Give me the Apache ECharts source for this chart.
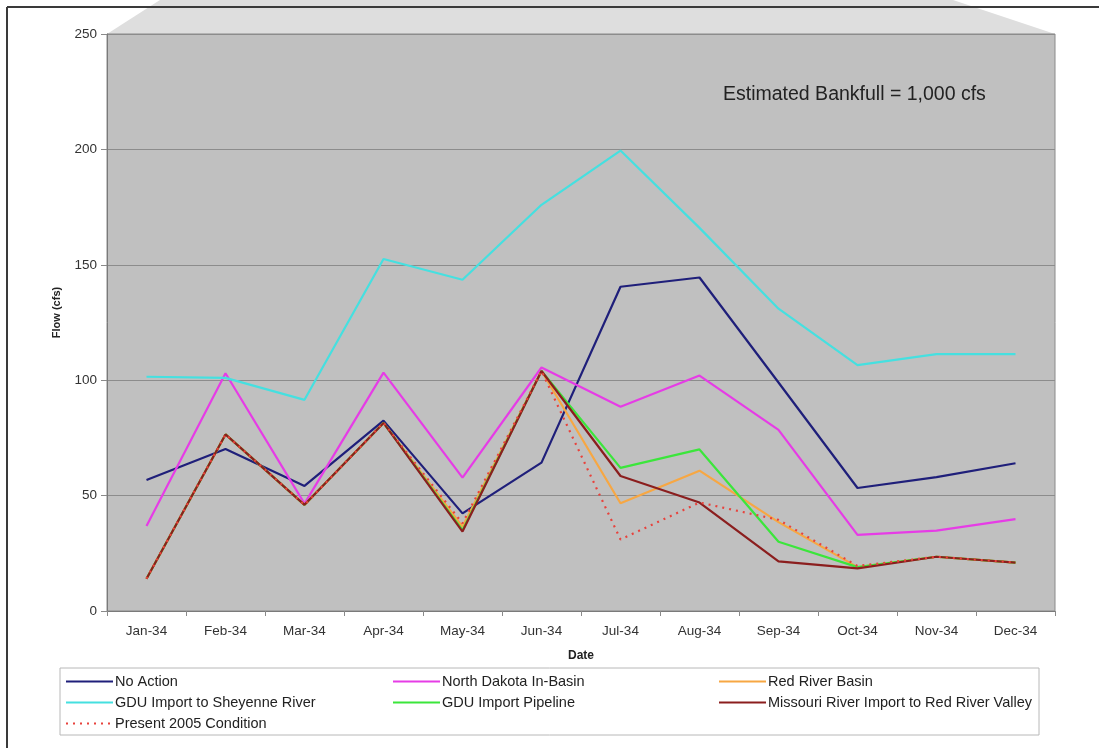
<!DOCTYPE html>
<html>
<head>
<meta charset="utf-8">
<script src="https://cdn.jsdelivr.net/npm/echarts@6/dist/echarts.min.js"></script>
<style>
html,body{margin:0;padding:0;background:#fff;}
#chart{width:1099px;height:748px;}
</style>
</head>
<body>
<div id="chart"></div>
<script>
const categories = ['Jan-34','Feb-34','Mar-34','Apr-34','May-34','Jun-34','Jul-34','Aug-34','Sep-34','Oct-34','Nov-34','Dec-34'];
const noAction = [56.8, 70.2, 54.2, 82.5, 42.3, 64.3, 140.5, 144.5, 99, 53.3, 58, 64];
const ndInBasin = [36.8, 103, 46.5, 103.3, 57.8, 105.5, 88.5, 102, 78.5, 33, 34.8, 39.8];
const redRiverBasin = [14, 76.5, 46, 81.5, 36.5, 104, 46.7, 60.8, 38.5, 19, 23.5, 21];
const gduSheyenne = [101.5, 101, 91.5, 152.5, 143.5, 176, 199.5, 166, 131, 106.5, 111.3, 111.3];
const gduPipeline = [14, 76.5, 46, 81.5, 35, 104, 62, 70, 30, 19, 23.5, 21];
const missouriImport = [14, 76.5, 46, 81.5, 34.4, 104, 58.5, 47, 21.5, 18.5, 23.5, 21];
const present2005 = [14, 76.5, 46, 81.5, 38, 104, 31, 47, 39.5, 19.5, 23.5, 21];
const yTicks = {min: 0, max: 250, interval: 50};

const FONT = 'Liberation Sans, Arial, sans-serif';
const chart = echarts.init(document.getElementById('chart'), null, {renderer: 'canvas'});

function line(name, data, color, type) {
  return {
    name: name, type: 'line', data: data, symbol: 'none', smooth: false,
    lineStyle: {color: color, width: 2.2, type: type || 'solid'},
    itemStyle: {color: color},
    emphasis: {disabled: true}
  };
}

const legendCommon = {
  orient: 'vertical', itemWidth: 47, itemHeight: 14, itemGap: 6,
  selectedMode: false,
  itemStyle: {opacity: 0},
  textStyle: {fontFamily: FONT, fontSize: 14.5, color: '#222', padding: [0,0,0,-3]},
  padding: 0
};

chart.setOption({
  animation: false,
  backgroundColor: '#ffffff',
  grid: {left: 107, top: 34, width: 948, height: 577, show: true,
    backgroundColor: '#c0c0c0', borderColor: '#8a8a8a', borderWidth: 1},
  graphic: [
    {type: 'polygon', z: -10, shape: {points: [[107,34],[160,0],[953,0],[1055,34]]},
      style: {fill: '#dedede'}},
    {type: 'line', shape: {x1: 7, y1: 7, x2: 1099, y2: 7}, style: {stroke: '#3a3a3a', lineWidth: 2}},
    {type: 'line', shape: {x1: 7, y1: 7, x2: 7, y2: 748}, style: {stroke: '#3a3a3a', lineWidth: 2}},
    {type: 'rect', shape: {x: 60, y: 668, width: 979, height: 67},
      style: {fill: '#ffffff', stroke: '#b8b8b8', lineWidth: 1}, z: -5},
    {type: 'text', left: 723, top: 85,
      style: {text: 'Estimated Bankfull = 1,000 cfs', font: '19.5px ' + FONT, fill: '#222'}}
  ],
  xAxis: {
    type: 'category', data: categories, boundaryGap: true,
    name: 'Date', nameLocation: 'middle', nameGap: 39,
    nameTextStyle: {fontFamily: FONT, fontSize: 12, fontWeight: 'bold', color: '#222'},
    axisLine: {lineStyle: {color: '#7a7a7a', width: 1}},
    axisTick: {show: true, length: 5, lineStyle: {color: '#8a8a8a'}},
    axisLabel: {fontFamily: FONT, fontSize: 13.5, color: '#333', margin: 13}
  },
  yAxis: {
    type: 'value', min: yTicks.min, max: yTicks.max, interval: yTicks.interval,
    name: 'Flow (cfs)', nameLocation: 'middle', nameGap: 45, nameRotate: 90,
    nameTextStyle: {fontFamily: FONT, fontSize: 11, fontWeight: 'bold', color: '#222', padding: [0, 0, 0, 20]},
    axisLine: {show: true, lineStyle: {color: '#7a7a7a', width: 1}},
    axisTick: {show: true, length: 6, lineStyle: {color: '#8a8a8a'}},
    axisLabel: {fontFamily: FONT, fontSize: 13.5, color: '#333', margin: 10},
    splitLine: {show: true, lineStyle: {color: '#8c8c8c', width: 1}}
  },
  legend: [
    Object.assign({left: 65, top: 674, data: ['No Action','GDU Import to Sheyenne River','Present 2005 Condition']}, legendCommon),
    Object.assign({left: 392, top: 674, data: ['North Dakota In-Basin','GDU Import Pipeline']}, legendCommon),
    Object.assign({left: 718, top: 674, data: ['Red River Basin','Missouri River Import to Red River Valley']}, legendCommon)
  ],
  series: [
    line('No Action', noAction, '#1f1f7a'),
    line('North Dakota In-Basin', ndInBasin, '#e63ce6'),
    line('Red River Basin', redRiverBasin, '#f7a743'),
    line('GDU Import to Sheyenne River', gduSheyenne, '#45e0e0'),
    line('GDU Import Pipeline', gduPipeline, '#3be63b'),
    line('Missouri River Import to Red River Valley', missouriImport, '#8b1e1e'),
    line('Present 2005 Condition', present2005, '#e8423c', [2, 5])
  ]
});
</script>
</body>
</html>
